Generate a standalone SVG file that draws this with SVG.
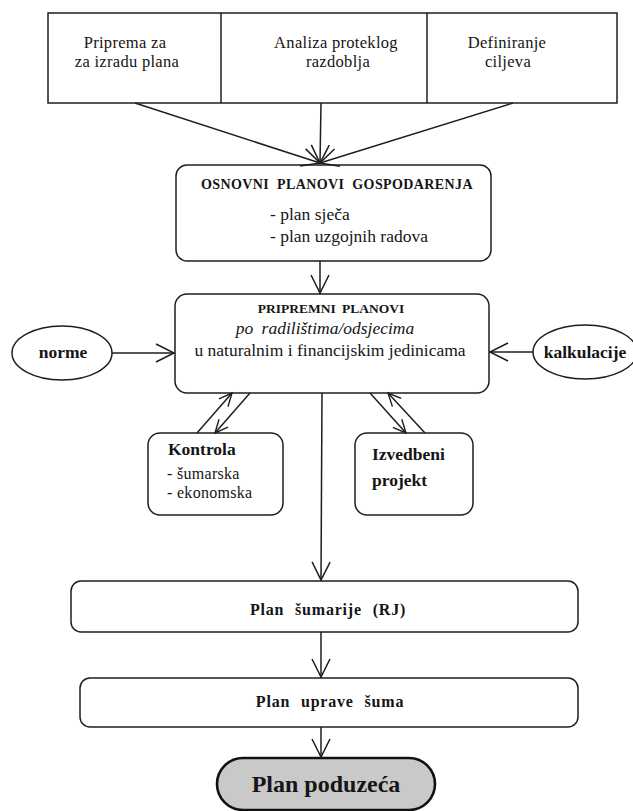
<svg xmlns="http://www.w3.org/2000/svg" width="633" height="811" viewBox="0 0 633 811">
<style>
  .box { fill: #ffffff; stroke: #1e1e1e; stroke-width: 1.5; }
  .ln { fill: none; stroke: #1e1e1e; stroke-width: 1.5; }
  text { font-family: "Liberation Serif", "Times New Roman", serif; fill: #151515; }
  .t { font-size: 17.5px; text-anchor: middle; }
  .ts { font-size: 17.5px; text-anchor: start; }
  .tt { font-size: 16.5px; text-anchor: middle; letter-spacing: 0.3px; }
  .b { font-weight: bold; }
  .i { font-style: italic; }
</style>
<defs>
  <marker id="ah" markerUnits="userSpaceOnUse" markerWidth="22" markerHeight="22" viewBox="0 0 22 22" refX="19" refY="11" orient="auto">
    <path d="M1,2 L19,11 L1,20" fill="none" stroke="#1e1e1e" stroke-width="1.5"/>
  </marker>
  <marker id="ahs" markerUnits="userSpaceOnUse" markerWidth="16" markerHeight="16" viewBox="0 0 16 16" refX="14" refY="8" orient="auto">
    <path d="M1,2 L14,8 L1,14" fill="none" stroke="#1e1e1e" stroke-width="1.4"/>
  </marker>
</defs>
<rect width="633" height="811" fill="#ffffff"/>

<g id="top-box">
  <rect class="box" x="48" y="13" width="569" height="90"/>
  <line class="ln" x1="221" y1="13" x2="221" y2="103"/>
  <line class="ln" x1="427" y1="13" x2="427" y2="103"/>
  <text class="tt" x="125" y="48">Priprema za</text>
  <text class="tt" x="127" y="67">za izradu plana</text>
  <text class="tt" x="336" y="48">Analiza proteklog</text>
  <text class="tt" x="338" y="67">razdoblja</text>
  <text class="tt" x="507" y="48">Definiranje</text>
  <text class="tt" x="508" y="67">ciljeva</text>
</g>

<g id="osnovni">
  <rect class="box" x="176" y="165" width="315" height="96" rx="11"/>
  <text class="b" x="337" y="189" text-anchor="middle" font-size="14" letter-spacing="0.4" word-spacing="4">OSNOVNI PLANOVI GOSPODARENJA</text>
  <text class="ts" x="270" y="220">- plan sječa</text>
  <text class="ts" x="270" y="242">- plan uzgojnih radova</text>
</g>

<g id="pripremni">
  <rect class="box" x="175" y="294" width="314" height="99" rx="12"/>
  <text class="b" x="331" y="313" text-anchor="middle" font-size="13.5" word-spacing="3">PRIPREMNI PLANOVI</text>
  <text class="t i" x="325" y="334" word-spacing="4">po radilištima/odsjecima</text>
  <text class="t" x="330" y="356">u naturalnim i financijskim jedinicama</text>
</g>

<g id="norme">
  <ellipse class="box" cx="62" cy="353" rx="50" ry="27"/>
  <text class="t b" x="63" y="358">norme</text>
</g>

<g id="kalkulacije">
  <ellipse class="box" cx="585" cy="352" rx="52" ry="27"/>
  <text class="t b" x="585" y="358">kalkulacije</text>
</g>

<g id="kontrola">
  <rect class="box" x="148" y="433" width="135" height="82" rx="12"/>
  <text class="ts b" x="168" y="455">Kontrola</text>
  <text x="167" y="479" font-size="16" letter-spacing="0.3">- šumarska</text>
  <text x="167" y="498" font-size="16" letter-spacing="0.3">- ekonomska</text>
</g>

<g id="izvedbeni">
  <rect class="box" x="355" y="433" width="118" height="82" rx="12"/>
  <text class="ts b" x="372" y="460">Izvedbeni</text>
  <text class="ts b" x="372" y="486">projekt</text>
</g>

<g id="plan-sumarije">
  <rect class="box" x="71" y="581" width="507" height="51" rx="10"/>
  <text class="b" x="328" y="615" text-anchor="middle" font-size="16" letter-spacing="0.8" word-spacing="6">Plan šumarije (RJ)</text>
</g>

<g id="plan-uprave">
  <rect class="box" x="80" y="678" width="498" height="49" rx="10"/>
  <text class="b" x="330" y="707" text-anchor="middle" font-size="16" letter-spacing="0.8" word-spacing="6">Plan uprave šuma</text>
</g>

<g id="plan-poduzeca">
  <rect x="217" y="758" width="218" height="52" rx="26" fill="#c9c9c9" stroke="#111111" stroke-width="2.6"/>
  <text class="b" x="326" y="792" text-anchor="middle" font-size="24">Plan poduzeća</text>
</g>

<g id="connectors">
  <line class="ln" x1="135" y1="103" x2="320" y2="163" marker-end="url(#ah)"/>
  <line class="ln" x1="321" y1="103" x2="320" y2="163" marker-end="url(#ah)"/>
  <line class="ln" x1="513" y1="103" x2="320" y2="163" marker-end="url(#ah)"/>
  <line class="ln" x1="320" y1="261" x2="320" y2="293" marker-end="url(#ah)"/>
  <line class="ln" x1="112" y1="353" x2="174" y2="353" marker-end="url(#ah)"/>
  <line class="ln" x1="533" y1="352" x2="490" y2="352" marker-end="url(#ah)"/>
  <line class="ln" x1="197" y1="433" x2="232" y2="393" marker-end="url(#ahs)"/>
  <line class="ln" x1="250" y1="393" x2="215" y2="433" marker-end="url(#ahs)"/>
  <line class="ln" x1="370" y1="393" x2="406" y2="433" marker-end="url(#ahs)"/>
  <line class="ln" x1="425" y1="433" x2="388" y2="393" marker-end="url(#ahs)"/>
  <line class="ln" x1="322" y1="393" x2="321" y2="580" marker-end="url(#ah)"/>
  <line class="ln" x1="321" y1="632" x2="321" y2="677" marker-end="url(#ah)"/>
  <line class="ln" x1="321" y1="727" x2="321" y2="757" marker-end="url(#ah)"/>
</g>
</svg>
